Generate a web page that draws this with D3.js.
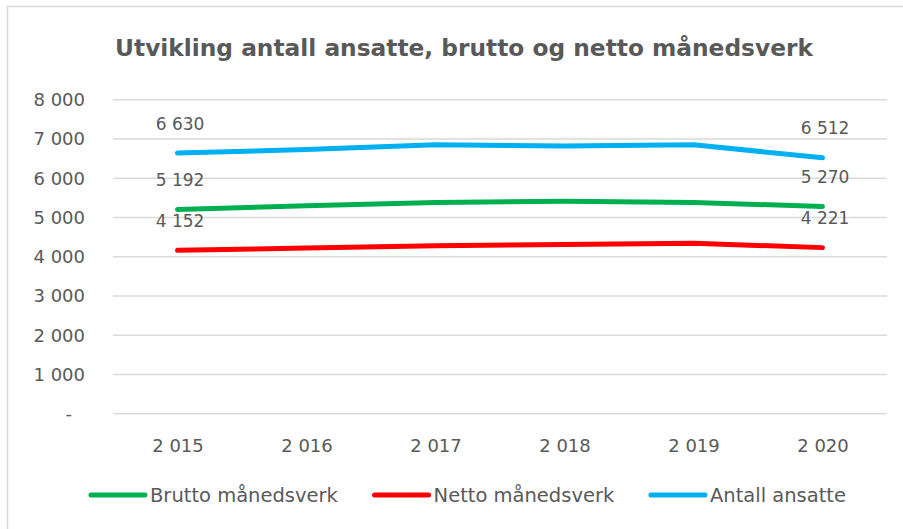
<!DOCTYPE html>
<head>
  <meta charset="utf-8">
  <title>Utvikling antall ansatte</title>
  <script src="https://cdn.jsdelivr.net/npm/d3@7"></script>
  <style>
    body { margin: 0; background: #fff; }
    text { font-family: "DejaVu Sans", sans-serif; fill: #595959; }
  </style>
</head>
<body>
<div id="container"></div>
<script>
  // data
  const years = [2015, 2016, 2017, 2018, 2019, 2020];
  const yearLabels = ["2 015", "2 016", "2 017", "2 018", "2 019", "2 020"];
  const brutto = [5192, 5290, 5370, 5400, 5370, 5270];
  const netto = [4152, 4210, 4270, 4300, 4330, 4221];
  const ansatte = [6630, 6720, 6840, 6810, 6840, 6512];
  const seriesNames = ["Brutto månedsverk", "Netto månedsverk", "Antall ansatte"];
  const seriesColors = ["#00B050", "#FF0000", "#00B0F0"];
  const yTicks = [0, 1000, 2000, 3000, 4000, 5000, 6000, 7000, 8000];

  const width = 903, height = 529;
  const plot = {left: 113, right: 887, top: 99.3, bottom: 413.3};

  const fmt = v => v === 0 ? "-" : d3.format(",")(v).replace(/,/g, " ");

  const svg = d3.select('#container').append('svg')
    .attr('width', width)
    .attr('height', height);

  // chart frame
  svg.append('rect')
    .attr('x', 7.5).attr('y', 6.5)
    .attr('width', 940).attr('height', 560)
    .attr('fill', 'none')
    .attr('stroke', '#d9d9d9')
    .attr('stroke-width', 1.5);

  const x = d3.scalePoint()
    .domain(years)
    .range([plot.left, plot.right])
    .padding(0.5);

  const y = d3.scaleLinear()
    .domain([0, 8000])
    .range([plot.bottom, plot.top]);

  // gridlines + y labels
  const yAxis = svg.append('g')
    .attr('transform', `translate(${plot.left},0)`)
    .call(d3.axisLeft(y)
      .tickValues(yTicks)
      .tickSize(-(plot.right - plot.left))
      .tickPadding(28)
      .tickFormat(fmt));
  yAxis.select('.domain').remove();
  yAxis.selectAll('.tick line')
    .attr('stroke', '#d9d9d9')
    .attr('stroke-width', 1.6);
  yAxis.selectAll('.tick text')
    .style('font-size', '18px')
    .attr('fill', '#595959')
    .attr('dy', '0.35em')
    .filter(d => d === 0)
    .attr('dx', -13);

  // x labels
  const xAxis = svg.append('g')
    .attr('transform', `translate(0,${plot.bottom})`)
    .call(d3.axisBottom(x)
      .tickSize(0)
      .tickPadding(26)
      .tickFormat((d, i) => yearLabels[i]));
  xAxis.select('.domain').remove();
  xAxis.selectAll('.tick text')
    .style('font-size', '18px')
    .attr('fill', '#595959');

  // lines
  const series = [brutto, netto, ansatte];
  const line = d3.line()
    .x((d, i) => x(years[i]))
    .y(d => y(d));

  svg.append('g').selectAll('path')
    .data(series)
    .join('path')
      .attr('d', d => line(d))
      .attr('fill', 'none')
      .attr('stroke', (d, i) => seriesColors[i])
      .attr('stroke-width', 5)
      .attr('stroke-linecap', 'round')
      .attr('stroke-linejoin', 'round');

  // labels on first and last point
  const labels = [];
  series.forEach(s => {
    labels.push({year: years[0], v: s[0]});
    labels.push({year: years[years.length - 1], v: s[s.length - 1]});
  });
  svg.append('g').selectAll('text')
    .data(labels)
    .join('text')
      .attr('x', d => x(d.year) + 2.5)
      .attr('y', d => y(d.v) - 23.5)
      .attr('text-anchor', 'middle')
      .style('font-size', '17px')
      .text(d => fmt(d.v));

  // title
  svg.append('text')
    .attr('x', 464)
    .attr('y', 56)
    .attr('text-anchor', 'middle')
    .style('font-size', '23.3px')
    .style('font-weight', 'bold')
    .text('Utvikling antall ansatte, brutto og netto månedsverk');

  // legend
  const legend = svg.append('g');
  const items = legend.selectAll('g')
    .data(seriesNames)
    .join('g');
  items.append('line')
    .attr('x1', 0).attr('x2', 54)
    .attr('y1', 0).attr('y2', 0)
    .attr('stroke', (d, i) => seriesColors[i])
    .attr('stroke-width', 5)
    .attr('stroke-linecap', 'round');
  items.append('text')
    .attr('x', 59)
    .attr('dy', '0.35em')
    .style('font-size', '19.5px')
    .text(d => d);

  let cx = 0;
  const gap = 36;
  items.each(function() {
    const w = this.getBBox().width;
    d3.select(this).attr('transform', `translate(${cx},0)`);
    cx += w + gap;
  });
  const total = cx - gap;
  legend.attr('transform', `translate(${466 - total / 2 + 2.5},495)`);
</script>
</body>
